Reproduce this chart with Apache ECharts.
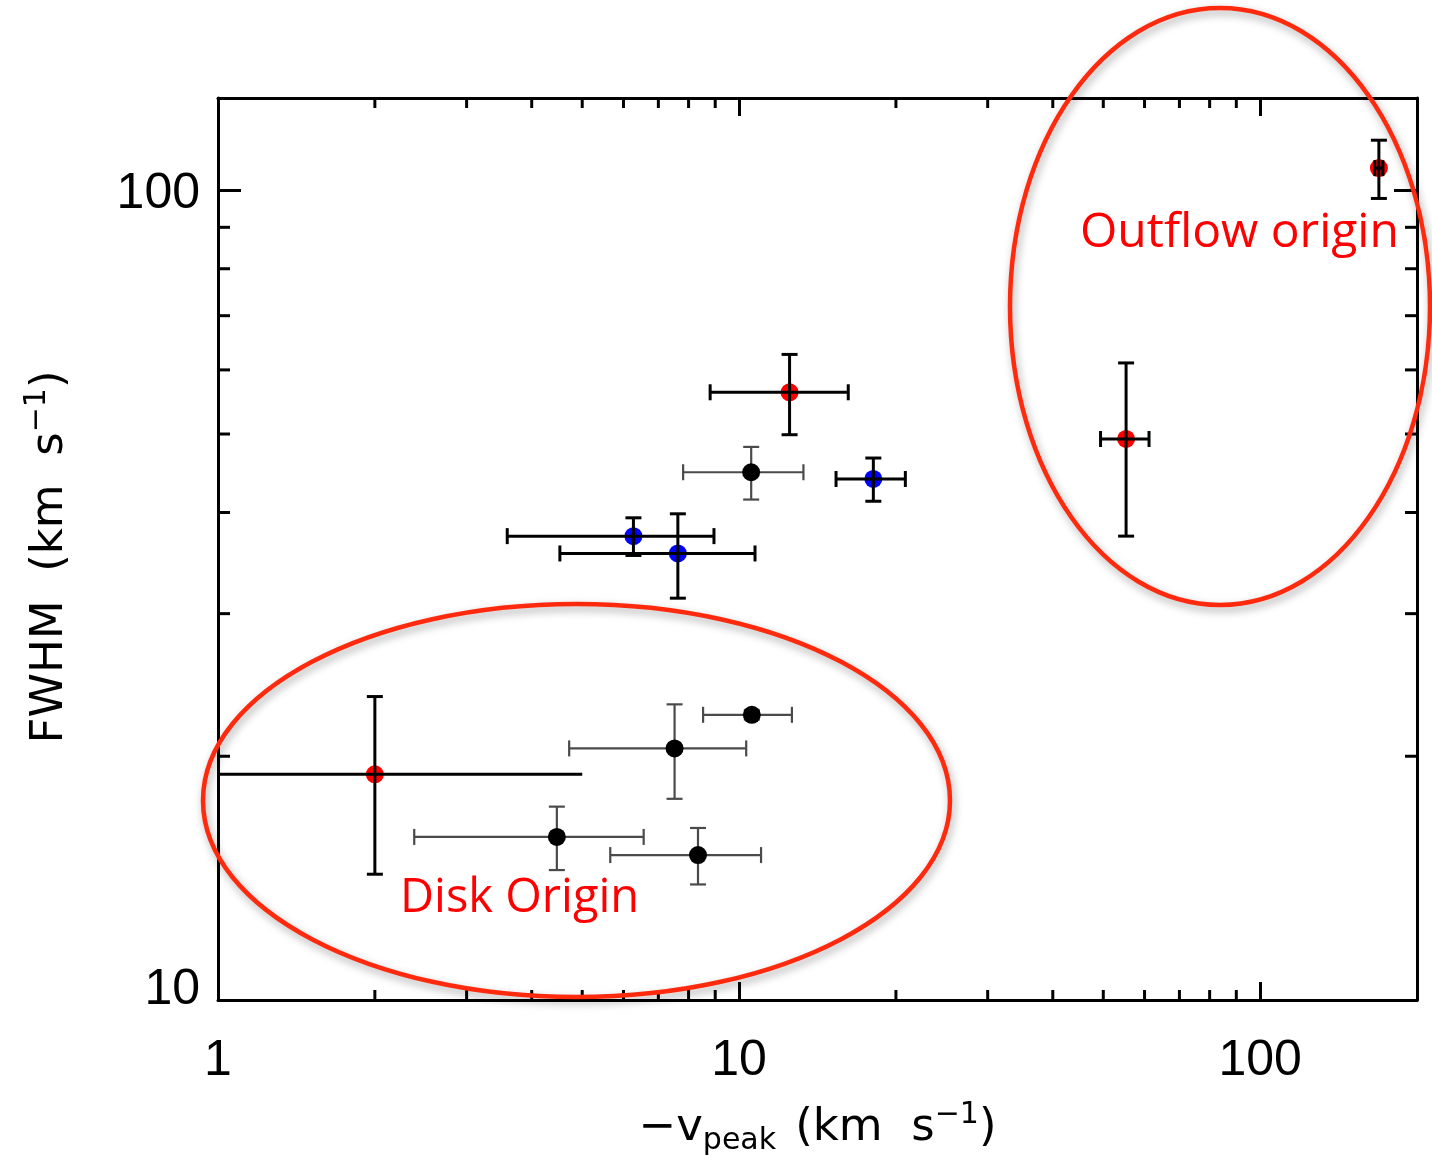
<!DOCTYPE html>
<html>
<head>
<meta charset="utf-8">
<script src="https://cdn.jsdelivr.net/npm/echarts@6/dist/echarts.min.js"></script>
<style>
  html, body { margin: 0; padding: 0; background: #ffffff; }
  #chart { width: 1432px; height: 1161px; }
</style>
</head>
<body>
<div id="chart"></div>
<script>
// Peak velocity (-v_peak, km/s) against line width (FWHM, km/s), with 1-sigma errors,
// split into the three marker colours.
const redVpeak      = [2.0, 12.5, 55.3, 169];
const redFwhm       = [19.0, 56.3, 49.3, 106.5];
const redVpeakErr   = [3.0, 3.7, 5.9, 3.0];
const redFwhmErr    = [4.7, 6.4, 11.9, 8.8];

const blueVpeak     = [6.27, 7.63, 18.1];
const blueFwhm      = [37.4, 35.6, 44.0];
const blueVpeakErr  = [2.68, 3.1, 2.75];
const blueFwhmErr   = [2.0, 4.25, 2.7];

const blackVpeak    = [4.47, 7.52, 8.34, 10.58, 10.55];
const blackFwhm     = [15.9, 20.45, 15.1, 22.5, 44.85];
const blackVpeakErr = [2.09, 2.8, 2.68, 2.05, 2.74];
const blackFwhmErr  = [1.43, 2.73, 1.21, 0.3, 3.35];

// Axis ranges and tick marks
const xRange = [1, 200];
const yRange = [10, 130];
const xTickLabels = ['1', '10', '100'];
const yTickLabels = ['10', '100'];
const xMinorTicks = [2, 3, 4, 5, 6, 7, 8, 9, 20, 30, 40, 50, 60, 70, 80, 90];
const yMinorTicks = [20, 30, 40, 50, 60, 70, 80, 90];

const AXIS_FONT = '"Liberation Sans", Arial, Helvetica, sans-serif';
const TITLE_FONT = '"DejaVu Sans", Verdana, sans-serif';
const NOTE_FONT = '"Open Sans", "Noto Sans", sans-serif';

function isLabelValue(v, list) {
  const r = Math.round(v);
  return Math.abs(v - r) < 1e-6 && list.indexOf(String(r)) >= 0;
}

const axisLineStyle = { color: '#000', width: 3 };

function xAxisDef(position, withLabels) {
  return {
    type: 'log', logBase: 10, min: xRange[0], max: xRange[1], position: position,
    axisLine: { show: true, onZero: false, lineStyle: axisLineStyle },
    axisTick: { show: true, inside: true, length: 18, lineStyle: { color: '#000', width: 3 } },
    axisLabel: withLabels ? {
      show: true, margin: 36, fontSize: 50, lineHeight: 50, fontFamily: AXIS_FONT, color: '#000',
      formatter: v => isLabelValue(v, xTickLabels) ? String(Math.round(v)) : ''
    } : { show: false },
    splitLine: { show: false }, minorTick: { show: false }
  };
}

function yAxisDef(position, withLabels) {
  return {
    type: 'log', logBase: 10, min: yRange[0], max: yRange[1], position: position,
    axisLine: { show: true, onZero: false, lineStyle: axisLineStyle },
    axisTick: { show: true, inside: true, length: 23, lineStyle: { color: '#000', width: 3 } },
    axisLabel: withLabels ? {
      show: true, margin: 18, fontFamily: AXIS_FONT, color: '#000',
      formatter: v => {
        if (!isLabelValue(v, yTickLabels)) return '';
        const s = String(Math.round(v));
        return s === '10' ? '{lo|' + s + '}' : '{n|' + s + '}';
      },
      rich: {
        n:  { fontSize: 50, lineHeight: 50, fontFamily: AXIS_FONT, color: '#000', padding: [8, 0, 0, 0] },
        lo: { fontSize: 50, lineHeight: 50, fontFamily: AXIS_FONT, color: '#000', padding: [0, 0, 20, 0] }
      }
    } : { show: false },
    splitLine: { show: false }, minorTick: { show: false }
  };
}

// Error bars drawn as crosses with end caps; a bar running off the log axis is clipped and left uncapped.
function errorBars(name, xs, ys, xe, ye, color, width, z) {
  return {
    type: 'custom', name: name, silent: true, clip: false, z: z,
    xAxisIndex: 0, yAxisIndex: 0,
    data: xs.map((x, i) => [x, ys[i], xe[i], ye[i]]),
    renderItem: function (params, api) {
      const cs = params.coordSys;
      const x = api.value(0), y = api.value(1), dx = api.value(2), dy = api.value(3);
      const c = api.coord([x, y]);
      const cap = 8;
      const st = { stroke: color, lineWidth: width, fill: 'none' };
      const lo = x - dx, hi = x + dx;
      const clipped = lo <= xRange[0];
      const xl = clipped ? cs.x : api.coord([lo, y])[0];
      const xr = api.coord([hi, y])[0];
      const yt = api.coord([x, y + dy])[1];
      const yb = api.coord([x, y - dy])[1];
      const kids = [
        { type: 'line', shape: { x1: xl, y1: c[1], x2: xr, y2: c[1] }, style: st },
        { type: 'line', shape: { x1: c[0], y1: yt, x2: c[0], y2: yb }, style: st },
        { type: 'line', shape: { x1: c[0] - cap, y1: yt, x2: c[0] + cap, y2: yt }, style: st },
        { type: 'line', shape: { x1: c[0] - cap, y1: yb, x2: c[0] + cap, y2: yb }, style: st }
      ];
      if (!clipped) {
        kids.push({ type: 'line', shape: { x1: xl, y1: c[1] - cap, x2: xl, y2: c[1] + cap }, style: st });
        kids.push({ type: 'line', shape: { x1: xr, y1: c[1] - cap, x2: xr, y2: c[1] + cap }, style: st });
      }
      return { type: 'group', children: kids };
    }
  };
}

function points(name, xs, ys, color, z) {
  return {
    type: 'scatter', name: name, z: z, silent: true,
    xAxisIndex: 0, yAxisIndex: 0,
    symbol: 'circle', symbolSize: 18,
    itemStyle: { color: color, opacity: 1 },
    data: xs.map((x, i) => [x, ys[i]])
  };
}

// Log-spaced minor ticks on all four sides of the frame
const minorX = {
  type: 'custom', silent: true, clip: false, z: 6, xAxisIndex: 0, yAxisIndex: 0,
  data: xMinorTicks.map(v => [v, yRange[0]]),
  renderItem: function (params, api) {
    const cs = params.coordSys;
    const px = api.coord([api.value(0), yRange[0]])[0];
    const st = { stroke: '#000', lineWidth: 3 };
    return { type: 'group', children: [
      { type: 'line', shape: { x1: px, y1: cs.y + cs.height, x2: px, y2: cs.y + cs.height - 10 }, style: st },
      { type: 'line', shape: { x1: px, y1: cs.y, x2: px, y2: cs.y + 10 }, style: st }
    ] };
  }
};
const minorY = {
  type: 'custom', silent: true, clip: false, z: 6, xAxisIndex: 0, yAxisIndex: 0,
  data: yMinorTicks.map(v => [xRange[0], v]),
  renderItem: function (params, api) {
    const cs = params.coordSys;
    const py = api.coord([xRange[0], api.value(1)])[1];
    const st = { stroke: '#000', lineWidth: 3 };
    return { type: 'group', children: [
      { type: 'line', shape: { x1: cs.x, y1: py, x2: cs.x + 12, y2: py }, style: st },
      { type: 'line', shape: { x1: cs.x + cs.width, y1: py, x2: cs.x + cs.width - 12, y2: py }, style: st }
    ] };
  }
};

const titleRich = {
  a:   { fontSize: 45, lineHeight: 56, fontFamily: TITLE_FONT, color: '#000', verticalAlign: 'middle' },
  sup: { fontSize: 30, lineHeight: 30, fontFamily: TITLE_FONT, color: '#000', verticalAlign: 'top' },
  sub: { fontSize: 30, lineHeight: 30, fontFamily: TITLE_FONT, color: '#000', verticalAlign: 'bottom' }
};

const xMain = xAxisDef('bottom', true);
xMain.name = '{a|\u2212v}{sub|peak  }{a|(km  s}{sup|\u22121}{a|)}';
xMain.nameLocation = 'middle';
xMain.nameGap = 100;
xMain.nameTextStyle = { rich: titleRich };

const yMain = yAxisDef('left', true);
yMain.name = '{a|FWHM  (km  s}{sup|\u22121}{a|)}';
yMain.nameLocation = 'middle';
yMain.nameGap = 140;
yMain.nameTextStyle = { rich: titleRich, padding: [0, 16, 0, 0] };

const ringStyle = {
  fill: 'none', stroke: '#ff2a0e', lineWidth: 4.5,
  shadowBlur: 8, shadowColor: 'rgba(0,0,0,0.35)', shadowOffsetX: 2, shadowOffsetY: 4
};

const option = {
  backgroundColor: '#ffffff',
  animation: false,
  grid: { left: 218, top: 98, right: 15, bottom: 158, containLabel: false },
  xAxis: [xMain, xAxisDef('top', false)],
  yAxis: [yMain, yAxisDef('right', false)],
  series: [
    points('red', redVpeak, redFwhm, '#ff0000', 2),
    points('blue', blueVpeak, blueFwhm, '#0000ff', 2),
    errorBars('red errors', redVpeak, redFwhm, redVpeakErr, redFwhmErr, '#000000', 3, 3),
    errorBars('blue errors', blueVpeak, blueFwhm, blueVpeakErr, blueFwhmErr, '#000000', 3, 3),
    errorBars('black errors', blackVpeak, blackFwhm, blackVpeakErr, blackFwhmErr, '#4a4a4a', 2.2, 3),
    points('black', blackVpeak, blackFwhm, '#000000', 4),
    minorX,
    minorY
  ],
  graphic: [
    { type: 'ellipse', z: 100, silent: true,
      shape: { cx: 576.5, cy: 800.5, rx: 373.5, ry: 196.5 }, style: ringStyle },
    { type: 'ellipse', z: 100, silent: true,
      shape: { cx: 1220, cy: 306.5, rx: 210, ry: 298.5 }, style: ringStyle },
    { type: 'text', z: 101, silent: true, x: 400, y: 899,
      style: { text: 'Disk Origin', fontSize: 47, fontFamily: NOTE_FONT, fill: '#ff0000',
               align: 'left', verticalAlign: 'middle', textAlign: 'left', textVerticalAlign: 'middle' } },
    { type: 'text', z: 101, silent: true, x: 1080, y: 233,
      style: { text: 'Outflow origin', fontSize: 48, fontFamily: NOTE_FONT, fill: '#ff0000',
               align: 'left', verticalAlign: 'middle', textAlign: 'left', textVerticalAlign: 'middle' } }
  ]
};

const chart = echarts.init(document.getElementById('chart'), null, { renderer: 'canvas' });
chart.setOption(option);
</script>
</body>
</html>
